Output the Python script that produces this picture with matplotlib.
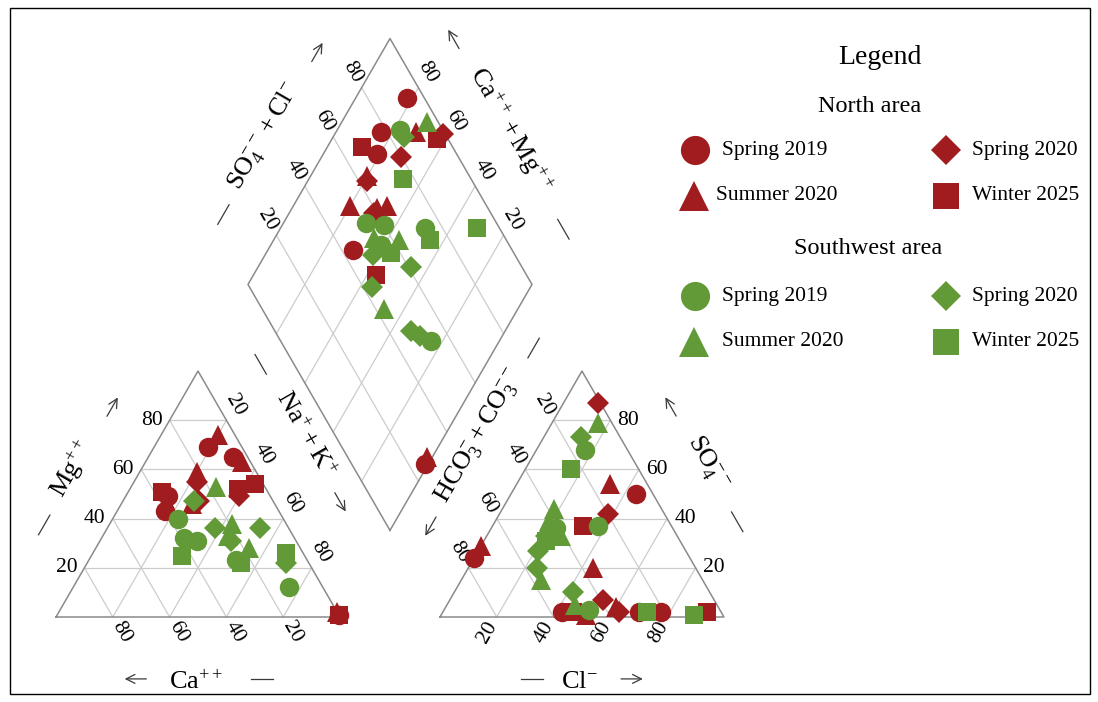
import numpy as np
import matplotlib
matplotlib.use("Agg")
import matplotlib.pyplot as plt
from matplotlib.patches import Rectangle

plt.rcParams['font.family'] = ['Liberation Serif', 'DejaVu Serif']
plt.rcParams['mathtext.fontset'] = 'custom'
plt.rcParams['mathtext.rm'] = 'Liberation Serif'
plt.rcParams['mathtext.it'] = 'Liberation Serif:italic'

RED = '#a01c1f'
GREEN = '#619a36'
GRID = '#cccccc'
EDGE = '#8a8a8a'
INK = '#3a3a3a'

# ---- sample compositions, % of meq/L ----
# cations: (Ca, Mg) -> Na+K is the remainder
n_spr19_cat = [(12, 69), (5, 65), (36, 49), (40, 43), (0, 1)]
n_sum20_cat = [(6, 74), (3, 63), (21, 59), (29, 46), (0, 2)]
n_spr20_cat = [(23, 55), (26, 47), (11, 49)]
n_win25_cat = [(37, 51), (10, 52), (3, 54), (0, 1)]
s_spr19_cat = [(37, 40), (39, 32), (35, 31), (25, 23), (12, 12)]
s_sum20_cat = [(17, 53), (19, 38), (18, 28), (23, 33)]
s_spr20_cat = [(28, 47), (26, 36), (23, 31), (10, 36), (8, 22)]
s_win25_cat = [(43, 25), (6, 26), (24, 22)]

# anions: (Cl, SO4) -> HCO3+CO3 is the remainder
n_spr19_an = [(44, 50), (0, 24), (42, 2), (69, 2), (77, 2)]
n_sum20_an = [(33, 54), (0, 29), (44, 20), (60, 4), (51, 1)]
n_spr20_an = [(12, 87), (38, 42), (54, 7), (62, 2)]
n_win25_an = [(32, 37), (46, 2), (93, 2)]
s_spr19_an = [(17, 68), (23, 36), (37, 37), (51, 3)]
s_sum20_an = [(16, 79), (18, 44), (19, 39), (26, 33), (28, 15), (45, 5)]
s_spr20_an = [(13, 73), (21, 33), (21, 27), (24, 20), (42, 10)]
s_win25_an = [(16, 60), (22, 31), (72, 2), (89, 1)]

# diamond: (SO4+Cl, Ca+Mg)
n_spr19_dia = [(94, 82), (78, 84), (72, 81), (44, 70), (26, 1)]
n_sum20_dia = [(90, 72), (64, 80), (52, 80), (61, 70), (65, 67), (28, 2)]
n_spr20_dia = [(80, 72), (63, 79), (99, 62), (59, 70)]
n_win25_dia = [(68, 88), (96, 63), (47, 57)]
s_spr19_dia = [(85, 78), (54, 71), (60, 64), (74, 49), (55, 61), (53, 24)]
s_sum20_dia = [(96, 70), (54, 65), (62, 56), (43, 47)]
s_spr20_dia = [(85, 75), (50, 62), (61, 46), (43, 56), (48, 33), (50, 29)]
s_win25_dia = [(76, 67), (73, 45), (92, 31), (57, 56)]

seasons = ['Spring 2019', 'Summer 2020', 'Spring 2020', 'Winter 2025']
marker_of = {'Spring 2019': 'o', 'Summer 2020': '^', 'Spring 2020': 'D', 'Winter 2025': 's'}
msize = {'o': 14, '^': 15, 'D': 11, 's': 12.5}

north = {
    'Spring 2019': (n_spr19_cat, n_spr19_an, n_spr19_dia),
    'Summer 2020': (n_sum20_cat, n_sum20_an, n_sum20_dia),
    'Spring 2020': (n_spr20_cat, n_spr20_an, n_spr20_dia),
    'Winter 2025': (n_win25_cat, n_win25_an, n_win25_dia),
}
south = {
    'Spring 2019': (s_spr19_cat, s_spr19_an, s_spr19_dia),
    'Summer 2020': (s_sum20_cat, s_sum20_an, s_sum20_dia),
    'Spring 2020': (s_spr20_cat, s_spr20_an, s_spr20_dia),
    'Winter 2025': (s_win25_cat, s_win25_an, s_win25_dia),
}

# ---- piper geometry (triangle side = 100) ----
H = np.sqrt(3) / 2
GAP = 35.2
OFF = 100 + GAP
BX, BY = (100 + OFF) / 2, GAP / 2 * np.sqrt(3)


def cat_xy(ca, mg):
    na = 100 - ca - mg
    return na + mg / 2, mg * H


def an_xy(cl, so4):
    return OFF + cl + so4 / 2, so4 * H


def dia_xy(a, c):
    return BX + (a - c) / 2, BY + (a + c) * H


fig = plt.figure(figsize=(10.98, 7.02), dpi=100)
ax = fig.add_axes([0, 0, 1, 1])
PX = 2.84
ax.set_xlim(-56 / PX, (1098 - 56) / PX)
ax.set_ylim(-(702 - 617) / PX, 617 / PX)
ax.axis('off')


def seg(p, q, **kw):
    ax.plot([p[0], q[0]], [p[1], q[1]], **kw)


gkw = dict(color=GRID, lw=0.9, zorder=1)
for v in (20, 40, 60, 80):
    # cation triangle
    seg(cat_xy(100 - v, v), cat_xy(0, v), **gkw)
    seg(cat_xy(v, 0), cat_xy(v, 100 - v), **gkw)
    seg(cat_xy(100 - v, 0), cat_xy(0, 100 - v), **gkw)
    # anion triangle
    seg(an_xy(0, v), an_xy(100 - v, v), **gkw)
    seg(an_xy(v, 0), an_xy(v, 100 - v), **gkw)
    seg(an_xy(100 - v, 0), an_xy(0, 100 - v), **gkw)
    # diamond
    seg(dia_xy(v, 0), dia_xy(v, 100), **gkw)
    seg(dia_xy(0, v), dia_xy(100, v), **gkw)

okw = dict(color=EDGE, lw=1.1, zorder=2)
for pts in ([cat_xy(100, 0), cat_xy(0, 0), cat_xy(0, 100), cat_xy(100, 0)],
            [an_xy(0, 0), an_xy(100, 0), an_xy(0, 100), an_xy(0, 0)],
            [dia_xy(0, 0), dia_xy(100, 0), dia_xy(100, 100), dia_xy(0, 100), dia_xy(0, 0)]):
    xs, ys = zip(*pts)
    ax.plot(xs, ys, **okw)

# tick labels
D = 6.3
up_l = np.array([-0.5, H])
up_r = np.array([0.5, H])
tk = dict(fontsize=15.5, ha='center', va='center', zorder=3)
for v in (20, 40, 60, 80):
    s = str(v)
    p = np.array(cat_xy(100 - v, v)); ax.text(p[0] - D, p[1], s, **tk)
    p = np.array(cat_xy(v, 0)) - up_l * D; ax.text(*p, s, rotation=-60, **tk)
    p = np.array(cat_xy(0, 100 - v)) + up_r * D; ax.text(*p, s, rotation=-60, **tk)
    p = np.array(an_xy(v, 0)) - up_r * D; ax.text(*p, s, rotation=60, **tk)
    p = np.array(an_xy(100 - v, v)); ax.text(p[0] + D, p[1], s, **tk)
    p = np.array(an_xy(0, 100 - v)) + up_l * D; ax.text(*p, s, rotation=-60, **tk)
    p = np.array(dia_xy(v, 100)) + up_l * D; ax.text(*p, s, rotation=-60, **tk)
    p = np.array(dia_xy(100, v)) + up_r * D; ax.text(*p, s, rotation=-60, **tk)


def edge_title(p0, p1, inside, text, rot, n_lab, t_lab, t_dash, t_arrow, arrow_sign):
    p0, p1 = np.array(p0), np.array(p1)
    mid = (p0 + p1) / 2
    t = (p1 - p0) / np.linalg.norm(p1 - p0)
    n = np.array([-t[1], t[0]])
    if np.dot(n, np.array(inside) - mid) > 0:
        n = -n
    lab = mid + n * n_lab + t * t_lab
    ax.text(*lab, text, rotation=rot, fontsize=19, ha='center', va='center',
            rotation_mode='anchor', zorder=3)
    base = mid + n * (n_lab - 1.2)
    c = base + t * t_dash
    seg(c - t * 4, c + t * 4, color=INK, lw=0.9, zorder=3)
    c = base + t * t_arrow
    ax.annotate('', xy=c + arrow_sign * t * 4.8, xytext=c - arrow_sign * t * 4.8,
                arrowprops=dict(arrowstyle='->', lw=0.9, color=INK, mutation_scale=16),
                zorder=3)


lc = (50, 30)
rc = (OFF + 50, 30)
dc = (BX, BY + 86.6)
edge_title(cat_xy(100, 0), cat_xy(0, 100), lc, r'$\mathregular{Mg^{++}}$', 60, 21, -2, -24, 24, 1)
edge_title(cat_xy(100, 0), cat_xy(0, 0), lc, r'$\mathregular{Ca^{++}}$', 0, 23, -0.7, 22.5, -22, -1)
edge_title(cat_xy(0, 100), cat_xy(0, 0), lc, r'$\mathregular{Na^{+} + K^{+}}$', -60, 21.5, -12, -41, 15, 1)
edge_title(an_xy(0, 0), an_xy(0, 100), rc, r'$\mathregular{HCO_3^{-} + CO_3^{--}}$', 60, 20, 12, 48.5, -24, -1)
edge_title(an_xy(0, 0), an_xy(100, 0), rc, r'$\mathregular{Cl^{-}}$', 0, 23, -1, -17.6, 17.6, 1)
edge_title(an_xy(100, 0), an_xy(0, 100), rc, r'$\mathregular{SO_4^{--}}$', -60, 22, 0, -23.3, 23.5, 1)
edge_title(dia_xy(0, 100), dia_xy(100, 100), dc, r'$\mathregular{SO_4^{--} + Cl^{-}}$', 60, 21, -2, -33, 33, 1)
edge_title(dia_xy(100, 100), dia_xy(100, 0), dc, r'$\mathregular{Ca^{++} + Mg^{++}}$', -60, 20.5, -1, 38.7, -38.6, -1)

# samples
for group, color in ((north, RED), (south, GREEN)):
    for season in seasons:
        cat, an, dia = group[season]
        m = marker_of[season]
        style = dict(ls='none', marker=m, ms=msize[m], color=color, mec=color, mew=0, zorder=4)
        ax.plot(*zip(*[cat_xy(*p) for p in cat]), **style)
        ax.plot(*zip(*[an_xy(*p) for p in an]), **style)
        ax.plot(*zip(*[dia_xy(*p) for p in dia]), **style)

# legend and frame, in pixel coordinates
lax = fig.add_axes([0, 0, 1, 1], facecolor='none')
lax.set_xlim(0, 1098)
lax.set_ylim(702, 0)
lax.axis('off')
lax.add_patch(Rectangle((10, 8), 1080, 686, fill=False, ec='black', lw=1.0))

lax.text(880, 58, 'Legend', fontsize=20, ha='center', va='center')
lax.text(870, 107, 'North area', fontsize=17.5, ha='center', va='center')
lax.text(868, 249, 'Southwest area', fontsize=17.5, ha='center', va='center')

leg_ms = {'o': 21, '^': 22, 'D': 15, 's': 19}
slots = {'Spring 2019': (695, 722, 0), 'Summer 2020': (694, 716, 46),
         'Spring 2020': (946, 972, 0), 'Winter 2025': (946, 972, 46)}
for color, y0 in ((RED, 150), (GREEN, 296)):
    for season in seasons:
        mx, tx, dy = slots[season]
        if color == GREEN and season == 'Summer 2020':
            tx = 722
        m = marker_of[season]
        lax.plot(mx, y0 + dy, marker=m, ms=leg_ms[m], color=color, mew=0, ls='none')
        lax.text(tx, y0 + dy, season, fontsize=15.5, ha='left', va='center')

fig.savefig('out.png', dpi=100)
